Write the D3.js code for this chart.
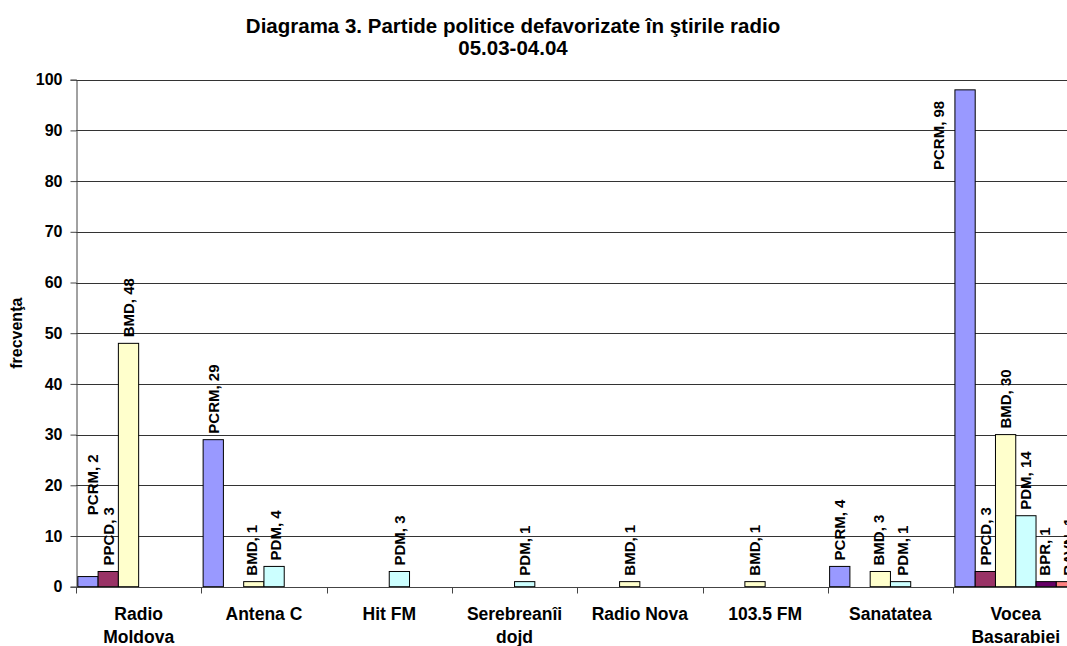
<!DOCTYPE html>
<html>
<head>
<meta charset="utf-8">
<script src="https://cdn.jsdelivr.net/npm/d3@7/dist/d3.min.js"></script>
<style>
  html, body { margin: 0; padding: 0; background: #fff; }
  svg { display: block; overflow: hidden; }
  text { font-family: Arial, "Liberation Sans", sans-serif; font-weight: bold; fill: #000; }
</style>
</head>
<body>
<svg id="chart" width="1067" height="646"></svg>
<script>
// ---- data ----
const categories = ["Radio Moldova", "Antena C", "Hit FM", "Serebreanîi dojd", "Radio Nova", "103.5 FM", "Sanatatea", "Vocea Basarabiei"];
const seriesNames = ["PCRM", "PPCD", "BMD", "PDM", "BPR", "RAVN"];
const PCRM = [2, 29, 0, 0, 0, 0, 4, 98];
const PPCD = [3, 0, 0, 0, 0, 0, 0, 3];
const BMD  = [48, 1, 0, 0, 1, 1, 3, 30];
const PDM  = [0, 4, 3, 1, 0, 0, 1, 14];
const BPR  = [0, 0, 0, 0, 0, 0, 0, 1];
const RAVN = [0, 0, 0, 0, 0, 0, 0, 1];
const yTicks = [0, 10, 20, 30, 40, 50, 60, 70, 80, 90, 100];
const titleLines = ["Diagrama 3. Partide politice defavorizate în ştirile radio", "05.03-04.04"];
const yTitle = "frecvenţa";

const seriesValues = { PCRM, PPCD, BMD, PDM, BPR, RAVN };
const colors = { PCRM: "#9999FF", PPCD: "#993366", BMD: "#FFFFCC", PDM: "#CCFFFF", BPR: "#660066", RAVN: "#FF8080" };

// ---- layout ----
const svg = d3.select("#chart");
const plot = { left: 76, top: 79.7, bottom: 586.7, groupW: 125.3 };
plot.right = plot.left + plot.groupW * categories.length;

const x0 = d3.scaleBand().domain(categories).range([plot.left, plot.right]).padding(0);
const x1 = d3.scaleBand().domain(seriesNames).range([0, x0.bandwidth()]).paddingInner(0).paddingOuter(0.09);
const y = d3.scaleLinear().domain([0, 100]).range([plot.bottom, plot.top]);

// title
svg.append("g").selectAll("text").data(titleLines).join("text")
  .attr("x", 513).attr("y", (d, i) => 33 + i * 22)
  .attr("text-anchor", "middle").style("font-size", "20.5px").text(d => d);

// gridlines
svg.append("g").selectAll("line").data(yTicks.filter(t => t > 0)).join("line")
  .attr("x1", plot.left).attr("x2", 1067)
  .attr("y1", d => Math.round(y(d)) + 0.5).attr("y2", d => Math.round(y(d)) + 0.5)
  .attr("stroke", "#333").attr("stroke-width", 1);

// y axis
const yAxis = svg.append("g").attr("transform", `translate(${plot.left + 0.5},0)`)
  .call(d3.axisLeft(y).tickValues(yTicks).tickSize(6).tickPadding(8).tickFormat(d3.format("d")));
yAxis.select(".domain").attr("stroke", "#444");
yAxis.selectAll(".tick line").attr("stroke", "#444");
yAxis.selectAll(".tick text").style("font-size", "16px").style("font-family", "Arial, 'Liberation Sans', sans-serif").style("font-weight", "bold").attr("fill", "#000");

// y title
svg.append("text").attr("transform", `translate(22,${(plot.top + plot.bottom) / 2}) rotate(-90)`)
  .attr("text-anchor", "middle").style("font-size", "16px").text(yTitle);

// bars
const barData = [];
categories.forEach((c, ci) => {
  seriesNames.forEach(s => {
    const v = seriesValues[s][ci];
    if (v > 0) barData.push({ c, s, v });
  });
});

svg.append("g").selectAll("rect").data(barData).join("rect")
  .attr("x", d => x0(d.c) + x1(d.s))
  .attr("y", d => y(d.v))
  .attr("width", x1.bandwidth())
  .attr("height", d => y(0) - y(d.v))
  .attr("fill", d => colors[d.s])
  .attr("stroke", "#000").attr("stroke-width", 1);

// x axis line and boundary ticks
const xAxisY = Math.round(y(0)) + 0.5;
svg.append("line").attr("x1", plot.left).attr("x2", 1067).attr("y1", xAxisY).attr("y2", xAxisY)
  .attr("stroke", "#444").attr("stroke-width", 1);
const bounds = categories.map(c => x0(c)).concat([plot.right]);
svg.append("g").selectAll("line").data(bounds).join("line")
  .attr("x1", d => Math.round(d) + 0.5).attr("x2", d => Math.round(d) + 0.5)
  .attr("y1", xAxisY).attr("y2", xAxisY + 6)
  .attr("stroke", "#444");

// category labels (wrapped)
const catFs = 17.5;
const catG = svg.append("g");
categories.forEach(c => {
  const cx = x0(c) + x0.bandwidth() / 2;
  const t = catG.append("text").attr("text-anchor", "middle")
    .attr("x", cx).attr("y", 620).style("font-size", catFs + "px");
  const words = c.split(" ");
  let line = [];
  let tspan = t.append("tspan").attr("x", cx).attr("dy", 0);
  words.forEach(w => {
    line.push(w);
    tspan.text(line.join(" "));
    if (tspan.node().getComputedTextLength() > x0.bandwidth() - 8 && line.length > 1) {
      line.pop();
      tspan.text(line.join(" "));
      line = [w];
      tspan = t.append("tspan").attr("x", cx).attr("dy", 23).text(w);
    }
  });
});

// data labels
const lblFs = 15;
const minSep = 24;       // minimum distance between neighbouring rotated labels
const lblG = svg.append("g");
const labels = barData.map(d => {
  const bx = x0(d.c) + x1(d.s);
  const cx = bx + x1.bandwidth() / 2;
  const node = lblG.append("text").style("font-size", lblFs + "px").text(`${d.s}, ${d.v}`);
  const L = node.node().getComputedTextLength();
  let lab = { d, node, L, cx, bottom: y(d.v) - 6 };
  if (lab.bottom - L < plot.top) {
    // does not fit above the bar: put it beside the bar, inside the plot
    lab.cx = bx - 11 - lblFs * 0.36;
    lab.bottom = y(d.v) + 11 + L;
  }
  return lab;
});

// resolve overlaps between neighbours in the same group
categories.forEach(c => {
  const g = labels.filter(l => l.d.c === c).sort((a, b) => a.cx - b.cx);
  for (let i = 0; i < g.length - 1; i++) {
    const a = g[i], b = g[i + 1];
    const vOverlap = Math.min(a.bottom, b.bottom) > Math.max(a.bottom - a.L, b.bottom - b.L);
    const dist = b.cx - a.cx;
    if (!vOverlap || dist >= minSep) continue;
    const push = (minSep - dist) / 2;
    if (a.cx - push - lblFs * 0.6 < plot.left + 6) {
      // no room on the left: lift the left label above its neighbour
      a.bottom = (b.bottom - b.L) + 8;
      a.cx += push * 2 + 1;
    } else {
      a.cx -= push;
      b.cx += push;
    }
  }
});

labels.forEach(l => {
  l.node.attr("transform", `translate(${l.cx + lblFs * 0.36},${l.bottom}) rotate(-90)`);
});
</script>
</body>
</html>
